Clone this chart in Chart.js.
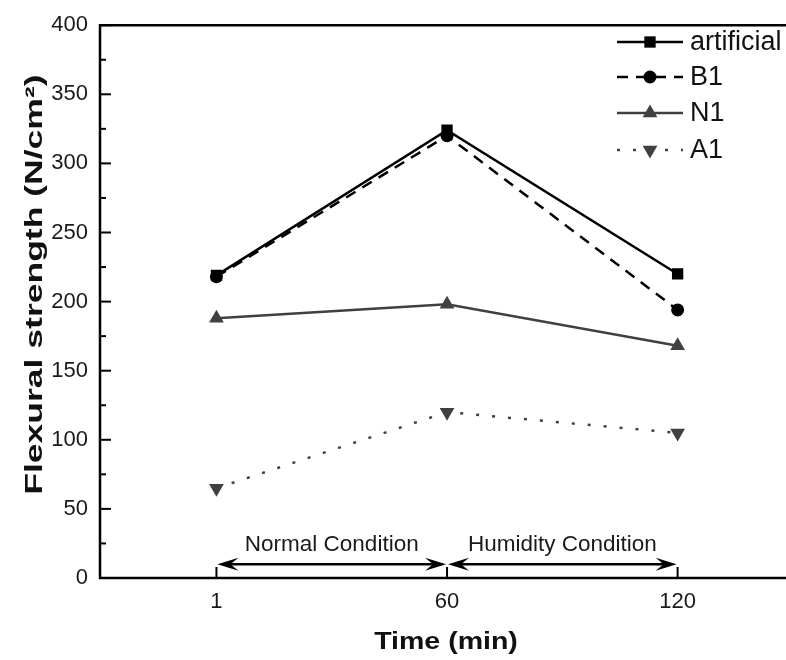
<!DOCTYPE html>
<html>
<head>
<meta charset="utf-8">
<script src="https://cdn.jsdelivr.net/npm/chart.js@4/dist/chart.umd.min.js"></script>
<style>
  html, body { margin: 0; padding: 0; background: #fff; overflow: hidden; }
  #wrap { width: 786px; height: 660px; position: relative; }
  canvas { display: block; }
</style>
</head>
<body>
<div id="wrap"><canvas id="c" width="786" height="660"></canvas></div>
<script>
// ---- data ----
const categories = ['1', '60', '120'];
const seriesNames = ['artificial', 'B1', 'N1', 'A1'];
const artificial = [219, 324, 220];
const b1 = [218, 320, 194];
const n1 = [188, 198, 168];
const a1 = [65, 120, 105];
const yTicks = [0, 50, 100, 150, 200, 250, 300, 350, 400];
const conditionLabels = ['Normal Condition', 'Humidity Condition'];
const xTitle = 'Time (min)';
const yTitle = 'Flexural strength (N/cm²)';

const FONT = "'Liberation Sans', Arial, sans-serif";
const DARK = '#404040';

function pts(arr) { return arr.map((v, i) => ({ x: i, y: v })); }

const styles = [
  { color: '#000', dash: [], style: 'rect', radius: 8, rot: 0 },
  { color: '#000', dash: [11, 8], style: 'circle', radius: 6.5, rot: 0 },
  { color: DARK, dash: [], style: 'triangle', radius: 8.5, rot: 0 },
  { color: DARK, dash: [3, 13], style: 'triangle', radius: 8.5, rot: 180 }
];
const values = [artificial, b1, n1, a1];

const datasets = values.map((arr, i) => ({
  label: seriesNames[i],
  data: pts(arr),
  borderColor: styles[i].color,
  backgroundColor: styles[i].color,
  borderWidth: 2.5,
  borderDash: styles[i].dash,
  pointStyle: styles[i].style,
  pointRadius: styles[i].radius,
  pointRotation: styles[i].rot,
  pointBorderWidth: 0,
  pointBackgroundColor: styles[i].color,
  tension: 0
}));

function drawMarker(ctx, st, x, y) {
  ctx.save();
  ctx.fillStyle = st.color;
  ctx.setLineDash([]);
  ctx.beginPath();
  const r = st.radius;
  if (st.style === 'rect') {
    const s = Math.SQRT1_2 * r;
    ctx.rect(x - s, y - s, 2 * s, 2 * s);
  } else if (st.style === 'circle') {
    ctx.arc(x, y, r, 0, Math.PI * 2);
  } else {
    const rad = st.rot * Math.PI / 180;
    for (let k = 0; k < 3; k++) {
      const a = rad + k * 2 * Math.PI / 3 - Math.PI / 2;
      const px = x + Math.cos(a) * r, py = y + Math.sin(a) * r;
      if (k === 0) ctx.moveTo(px, py); else ctx.lineTo(px, py);
    }
    ctx.closePath();
  }
  ctx.fill();
  ctx.restore();
}

const framePlugin = {
  id: 'frame',
  afterDraw(chart) {
    const { ctx, chartArea: ca, scales } = chart;
    const xs = scales.x, ys = scales.y;
    ctx.save();
    ctx.strokeStyle = '#000';
    ctx.lineWidth = 2.5;
    ctx.setLineDash([]);
    ctx.beginPath();
    ctx.moveTo(ca.right + 2, ca.top);
    ctx.lineTo(ca.left, ca.top);
    ctx.lineTo(ca.left, ca.bottom);
    ctx.lineTo(ca.right + 2, ca.bottom);
    ctx.stroke();
    // y ticks (inward), major + minor
    ctx.lineWidth = 2;
    for (let v = 0; v <= 400; v += 25) {
      const y = ys.getPixelForValue(v);
      const len = (v % 50 === 0) ? 11 : 6;
      ctx.beginPath();
      ctx.moveTo(ca.left, y);
      ctx.lineTo(ca.left + len, y);
      ctx.stroke();
    }
    // x ticks (inward)
    categories.forEach((c, i) => {
      const x = xs.getPixelForValue(i);
      ctx.beginPath();
      ctx.moveTo(x, ca.bottom);
      ctx.lineTo(x, ca.bottom - 11);
      ctx.stroke();
    });
    // condition arrows
    const ay = ys.getPixelForValue(10);
    const ty = ys.getPixelForValue(24);
    function arrowHead(x, dir) {
      ctx.beginPath();
      ctx.moveTo(x, ay);
      ctx.lineTo(x - dir * 21, ay - 6.5);
      ctx.lineTo(x - dir * 13, ay);
      ctx.lineTo(x - dir * 21, ay + 6.5);
      ctx.closePath();
      ctx.fillStyle = '#000';
      ctx.fill();
    }
    ctx.font = '22.5px ' + FONT;
    ctx.textAlign = 'center';
    ctx.textBaseline = 'middle';
    for (let i = 0; i < conditionLabels.length; i++) {
      const x0 = xs.getPixelForValue(i) + 1, x1 = xs.getPixelForValue(i + 1) - 1;
      ctx.lineWidth = 2.5;
      ctx.beginPath();
      ctx.moveTo(x0 + 8, ay);
      ctx.lineTo(x1 - 8, ay);
      ctx.stroke();
      arrowHead(x0, -1);
      arrowHead(x1, 1);
      ctx.fillStyle = '#1a1a1a';
      ctx.fillText(conditionLabels[i], (x0 + x1) / 2, ty);
    }
    // axis titles (stretched to match reference proportions)
    ctx.fillStyle = '#111';
    ctx.textAlign = 'center';
    ctx.textBaseline = 'alphabetic';
    ctx.save();
    ctx.translate((ca.left + ca.right) / 2 + 3, 649);
    ctx.scale(1.24, 1);
    ctx.font = 'bold 23px ' + FONT;
    ctx.fillText(xTitle, 0, 0);
    ctx.restore();
    ctx.save();
    ctx.translate(42, (ca.top + ca.bottom) / 2 - 17);
    ctx.rotate(-Math.PI / 2);
    ctx.scale(1.48, 1);
    ctx.font = 'bold 24px ' + FONT;
    ctx.fillText(yTitle, 0, 0);
    ctx.restore();
    // legend
    const lx0 = 617, lx1 = 683, tx = 690;
    const rows = [42, 77, 113, 150];
    ctx.font = '27px ' + FONT;
    ctx.textAlign = 'left';
    ctx.textBaseline = 'middle';
    datasets.forEach((d, i) => {
      const st = styles[i];
      const y = rows[i];
      ctx.strokeStyle = st.color;
      ctx.lineWidth = 2.5;
      ctx.setLineDash(st.dash);
      ctx.beginPath();
      ctx.moveTo(lx0, y);
      ctx.lineTo(lx1, y);
      ctx.stroke();
      ctx.setLineDash([]);
      drawMarker(ctx, st, (lx0 + lx1) / 2, y);
      ctx.fillStyle = '#111';
      ctx.fillText(d.label, tx, y + 1);
    });
    ctx.restore();
  }
};

new Chart(document.getElementById('c'), {
  type: 'line',
  data: { datasets },
  options: {
    responsive: false,
    animation: false,
    devicePixelRatio: 1,
    layout: { autoPadding: false, padding: { top: 22, right: 0, left: 0, bottom: 0 } },
    plugins: { legend: { display: false }, tooltip: { enabled: false } },
    scales: {
      x: {
        type: 'linear',
        min: -0.505,
        max: 2.47,
        afterBuildTicks: (s) => { s.ticks = categories.map((c, i) => ({ value: i })); },
        afterFit: (s) => { s.height = 82; },
        ticks: {
          callback: (v) => categories[v],
          font: { family: FONT, size: 22 },
          color: '#1a1a1a',
          padding: 11,
          maxRotation: 0
        },
        grid: { drawOnChartArea: false, drawTicks: false },
        border: { display: false },
        title: { display: false, text: xTitle }
      },
      y: {
        min: 0,
        max: 400,
        afterBuildTicks: (s) => { s.ticks = yTicks.map(v => ({ value: v })); },
        afterFit: (s) => { s.width = 100; },
        ticks: {
          font: { family: FONT, size: 22 },
          color: '#1a1a1a',
          padding: 12
        },
        grid: { drawOnChartArea: false, drawTicks: false },
        border: { display: false },
        title: { display: false, text: yTitle }
      }
    }
  },
  plugins: [framePlugin]
});
</script>
</body>
</html>
